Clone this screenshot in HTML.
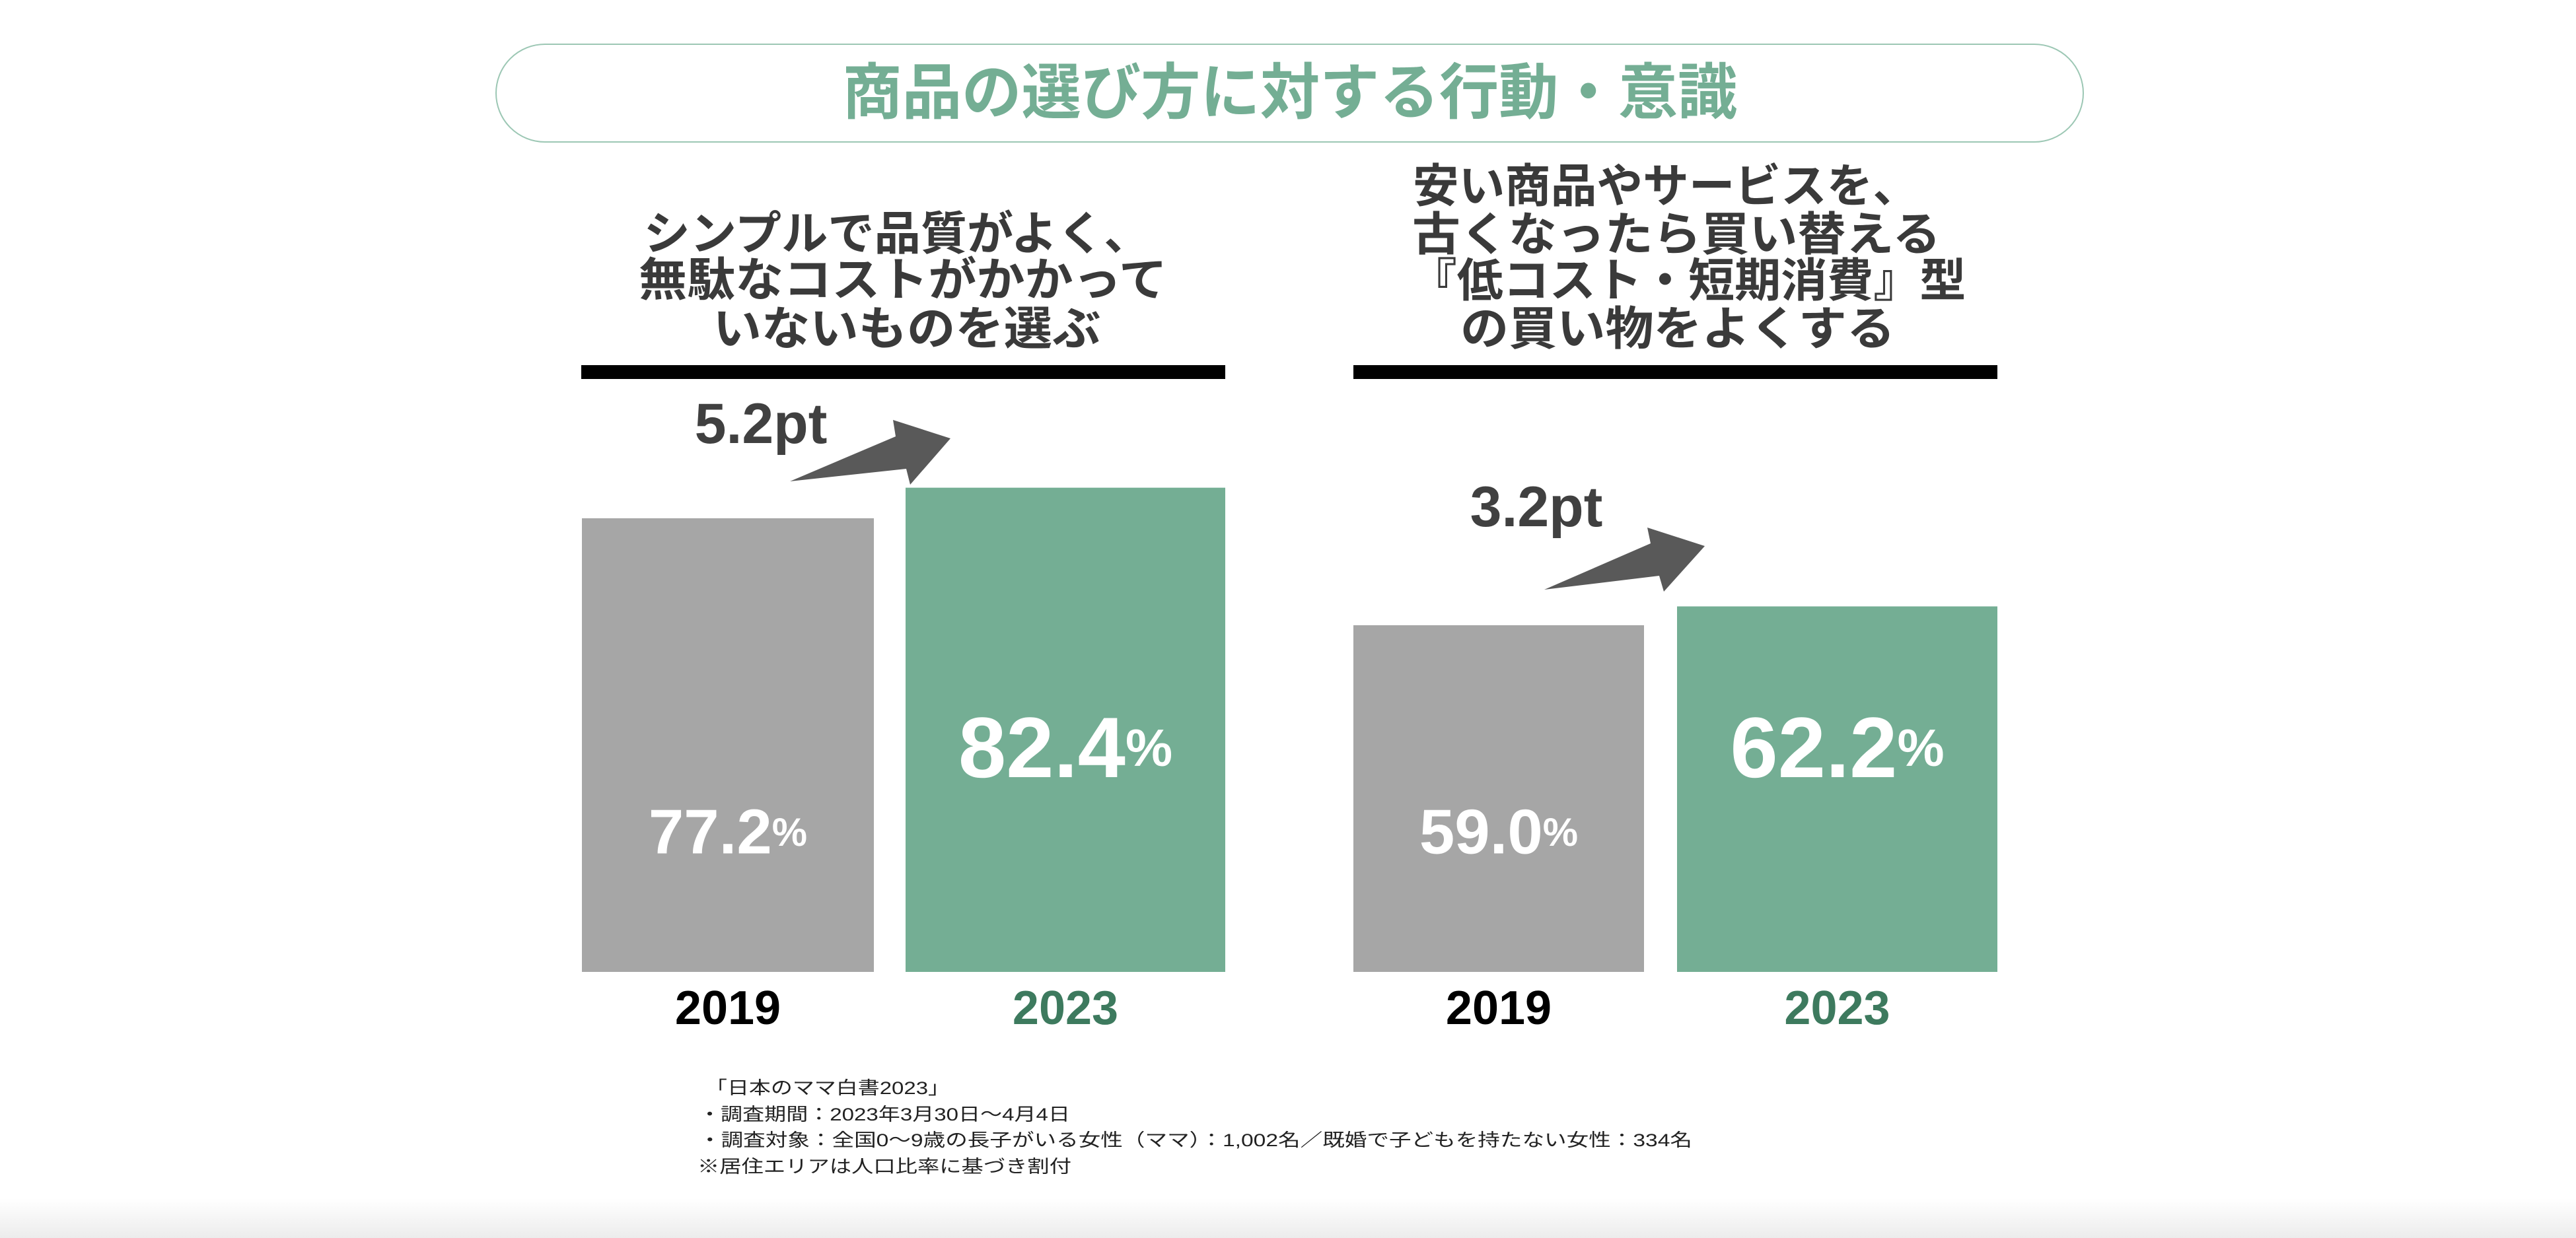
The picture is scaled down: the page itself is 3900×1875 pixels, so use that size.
<!DOCTYPE html>
<html><head><meta charset="utf-8"><style>
html,body{margin:0;padding:0;background:#fff;}
svg{display:block;}
text{font-family:"Liberation Sans","Noto Sans CJK JP",sans-serif;}
</style></head><body>
<svg id="chart" width="3900" height="1875" viewBox="0 0 3900 1875" xmlns="http://www.w3.org/2000/svg">
<defs><linearGradient id="bg" x1="0" y1="0" x2="0" y2="1"><stop offset="0" stop-color="#ffffff"/><stop offset="1" stop-color="#ececec"/></linearGradient></defs>
<rect x="0" y="1815" width="3900" height="60" fill="url(#bg)"/>
<rect x="751" y="67" width="2403" height="148" rx="74" fill="#fff" stroke="#9cc7b4" stroke-width="2"/>
<text x="1953" y="141" text-anchor="middle" dominant-baseline="central" font-size="92" font-weight="bold" fill="#74ae94" textLength="1355" lengthAdjust="spacingAndGlyphs">商品の選び方に対する行動・意識</text>
<g font-weight="bold" fill="#3a3a3a" font-size="70" text-anchor="middle">
<text x="1358" y="354" dominant-baseline="central" textLength="767" lengthAdjust="spacingAndGlyphs">シンプルで品質がよく、</text>
<text x="1367" y="424" dominant-baseline="central" textLength="800" lengthAdjust="spacingAndGlyphs">無駄なコストがかかって</text>
<text x="1373" y="498" dominant-baseline="central" textLength="587" lengthAdjust="spacingAndGlyphs">いないものを選ぶ</text>
</g>
<g font-weight="bold" fill="#3a3a3a" font-size="70" text-anchor="middle">
<text x="2522" y="282" dominant-baseline="central" textLength="766" lengthAdjust="spacingAndGlyphs">安い商品やサービスを、</text>
<text x="2538" y="355" dominant-baseline="central" textLength="800" lengthAdjust="spacingAndGlyphs">古くなったら買い替える</text>
<text x="2556" y="425" dominant-baseline="central" textLength="841" lengthAdjust="spacingAndGlyphs">『低コスト・短期消費』型</text>
<text x="2540" y="498" dominant-baseline="central" textLength="658" lengthAdjust="spacingAndGlyphs">の買い物をよくする</text>
</g>
<rect x="880" y="553" width="975" height="21" fill="#000"/>
<rect x="2049" y="553" width="975" height="21" fill="#000"/>
<g id="marks"></g>
<polygon points="1196,729 1356,661 1352,636 1439,664 1378,734 1372,710" fill="#595959"/>
<polygon points="2338,893 2499,823 2494,799 2581,827 2519,896 2512,872" fill="#595959"/>
<g font-size="27" fill="#222">
<text x="1068" y="1657" textLength="370" lengthAdjust="spacingAndGlyphs">「日本のママ白書2023」</text>
<text x="1058" y="1697" textLength="562" lengthAdjust="spacingAndGlyphs">・調査期間：2023年3月30日～4月4日</text>
<text x="1058" y="1736" textLength="1504" lengthAdjust="spacingAndGlyphs">・調査対象：全国0～9歳の長子がいる女性（ママ）：1,002名／既婚で子どもを持たない女性：334名</text>
<text x="1056" y="1776" textLength="566" lengthAdjust="spacingAndGlyphs">※居住エリアは人口比率に基づき割付</text>
</g>
</svg>
<script>
const groups = ["simple-quality", "low-cost-short-term"];
const values2019 = [77.2, 59.0];
const values2023 = [82.4, 62.2];
const diffLabels = ["5.2pt", "3.2pt"];
const yearLabels = ["2019", "2023"];

const NS = "http://www.w3.org/2000/svg";
const baseY = 1472, pxPer = 8.9;
function yScale(v){ return baseY - v * pxPer; }
const groupX = [[881, 1371], [2049, 2539]];
const barW = [[442, 484], [440, 485]];
const g = document.getElementById('marks');
function mk(tag, attrs){ const e = document.createElementNS(NS, tag); for (const k in attrs) e.setAttribute(k, attrs[k]); return e; }
groups.forEach((grp, i) => {
  [values2019, values2023].forEach((arr, j) => {
    const v = arr[i];
    const x = groupX[i][j], w = barW[i][j];
    const r = mk('rect', {x: x, y: yScale(v), width: w, height: baseY - yScale(v), fill: j ? '#74ae94' : '#a6a6a6'});
    
    
    g.appendChild(r);
    const cx = x + w / 2;
    const big = j === 1;
    const ly = big ? 1132 : 1260;
    const t = mk('text', {x: cx, y: ly, 'text-anchor': 'middle', 'dominant-baseline': 'central', fill: '#fff', 'font-weight': 'bold', 'font-size': big ? 130 : 96});
    
    
    t.textContent = v.toFixed(1);
    const p = mk('tspan', {'font-size': big ? 80 : 60});
    p.textContent = '%';
    t.appendChild(p);
    g.appendChild(t);
    const yl = mk('text', {x: cx, y: 1527, 'text-anchor': 'middle', 'dominant-baseline': 'central', fill: j ? '#3d7a5e' : '#000', 'font-weight': 'bold', 'font-size': 72});
    
    
    yl.textContent = yearLabels[j];
    g.appendChild(yl);
  });
  const d = mk('text', {x: i ? 2326 : 1152, y: i ? 768 : 642, 'text-anchor': 'middle', 'dominant-baseline': 'central', fill: '#404040', 'font-weight': 'bold', 'font-size': 86});
  
  
  d.textContent = diffLabels[i];
  g.appendChild(d);
});
</script>
</body></html>
